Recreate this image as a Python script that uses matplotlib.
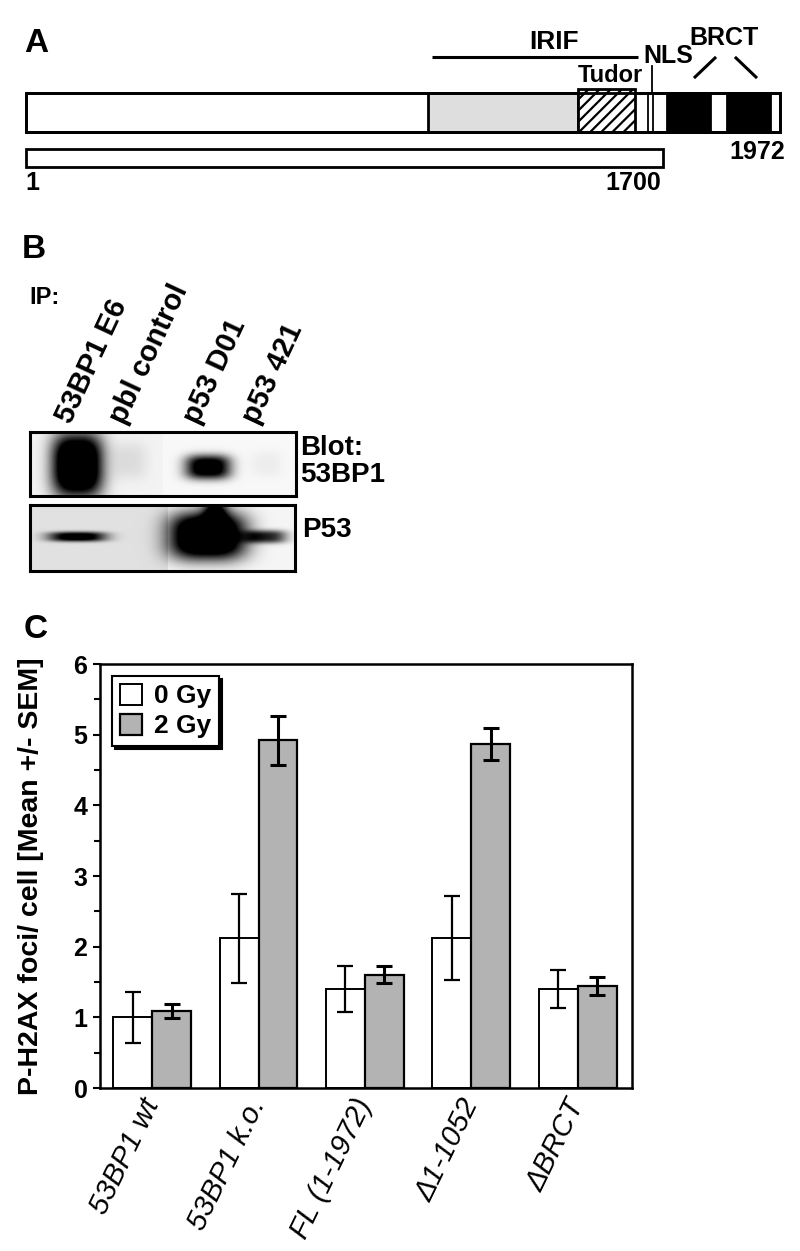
import numpy as np
import matplotlib
matplotlib.use("Agg")
import matplotlib.pyplot as plt
from matplotlib.patches import Rectangle

# ---------------- data ----------------
# Panel A: 53BP1 domain map (amino-acid positions, schematic as drawn)
protein_len = 1972
irif_region = (1062, 1600)
gray_region = (1052, 1444)
tudor_region = (1444, 1593)
nls_pos = 1637
nls_edges = [1627, 1640]
brct_regions = [(1676, 1789), (1833, 1945)]
construct_end = 1665
construct_label = "1700"

# Panel B: co-IP western blot
ip_lanes = ["53BP1 E6", "pbl control", "p53 D01", "p53 421"]
blot_names = ["Blot:\n53BP1", "P53"]
signal_53bp1 = [1.0, 0.06, 0.80, 0.03]
signal_p53 = [0.70, 0.0, 1.0, 0.55]

# Panel C: P-H2AX foci
groups = ["53BP1 wt", "53BP1 k.o.", "FL (1-1972)", "\u03941-1052", "\u0394BRCT"]
mean_0gy = [1.00, 2.12, 1.40, 2.12, 1.40]
sem_0gy = [0.36, 0.63, 0.32, 0.59, 0.27]
mean_2gy = [1.09, 4.92, 1.60, 4.87, 1.44]
sem_2gy = [0.10, 0.35, 0.12, 0.23, 0.13]
series_labels = ["0 Gy", "2 Gy"]
yticks = [0, 1, 2, 3, 4, 5, 6]

# ---------------- style ----------------
plt.rcParams["font.family"] = ["Liberation Sans", "DejaVu Sans"]
plt.rcParams["hatch.linewidth"] = 1.6

W, H = 800, 1251
fig = plt.figure(figsize=(W / 100, H / 100), dpi=100)


def fx(px):
    return px / W


def fy(py):
    return 1 - py / H


def ftext(px, py, s, **kw):
    kw.setdefault("fontweight", "bold")
    fig.text(fx(px), fy(py), s, **kw)


# ================= Panel A =================
axA = fig.add_axes([0, fy(200), 1, 200 / H])
px_per_aa = (780 - 26) / (protein_len - 1)
axA.set_xlim(1 - 26 / px_per_aa, 1 + (W - 26) / px_per_aa)
axA.set_ylim(200, 0)
axA.axis("off")

bar_top, bar_bot = 93, 132
lw = 2.0
axA.add_patch(Rectangle((1, bar_top), protein_len - 1, bar_bot - bar_top,
                        facecolor="white", edgecolor="black", lw=lw, zorder=2))
axA.add_patch(Rectangle((gray_region[0], bar_top), gray_region[1] - gray_region[0],
                        bar_bot - bar_top, facecolor="#dedede", edgecolor="black", lw=lw, zorder=3))
axA.add_patch(Rectangle((tudor_region[0], 89), tudor_region[1] - tudor_region[0],
                        bar_bot - 89, facecolor="white", edgecolor="black", hatch="///",
                        lw=lw, zorder=4))
for e in nls_edges:
    axA.plot([e, e], [bar_top, bar_bot], color="black", lw=1.3, zorder=4)
for s, e in brct_regions:
    axA.add_patch(Rectangle((s, bar_top), e - s, bar_bot - bar_top,
                            facecolor="black", edgecolor="black", lw=lw, zorder=4))
axA.add_patch(Rectangle((1, bar_top), protein_len - 1, bar_bot - bar_top,
                        facecolor="none", edgecolor="black", lw=lw, zorder=5))
axA.add_patch(Rectangle((1, 149), construct_end - 1, 18,
                        facecolor="white", edgecolor="black", lw=lw, zorder=2))
axA.plot(list(irif_region), [57, 57], color="black", lw=2.2, solid_capstyle="butt")
axA.plot([nls_pos, nls_pos], [66, bar_top], color="black", lw=1.3)
axA.plot([1750, 1802], [77, 58], color="black", lw=2.2)
axA.plot([1857, 1909], [58, 77], color="black", lw=2.2)

ftext(554, 42, "IRIF", ha="center", va="center", fontsize=19)
ftext(668, 56, "NLS", ha="center", va="center", fontsize=18)
ftext(610, 76, "Tudor", ha="center", va="center", fontsize=17)
ftext(724, 38, "BRCT", ha="center", va="center", fontsize=18)
ftext(757, 152, "1972", ha="center", va="center", fontsize=18)
ftext(633, 183, construct_label, ha="center", va="center", fontsize=18)
ftext(32, 183, "1", ha="center", va="center", fontsize=18)
ftext(36, 44, "A", ha="center", va="center", fontsize=24)

# ================= Panel B =================
ftext(34, 250, "B", ha="center", va="center", fontsize=24)
ftext(29, 297, "IP:", ha="left", va="center", fontsize=17)

lane_frac = [0.177, 0.37, 0.67, 0.89]
band_w53 = [0.095, 0.07, 0.085, 0.06]
band_h53 = [0.50, 0.3, 0.19, 0.2]
band_c53 = [0.52, 0.45, 0.55, 0.5]
band_wp = [0.11, 0.05, 0.145, 0.08]
band_hp = [0.075, 0.1, 0.36, 0.1]
band_cp = [0.48, 0.5, 0.47, 0.48]


def blot_image(signal, bw, bh, bc_, npx, npy, bg_left, bg_right, split):
    X, Y = np.meshgrid(np.linspace(0, 1, npx), np.linspace(0, 1, npy))
    dens = np.where(X < split, bg_left, bg_right)
    for cx, s, w_, h_, cy in zip(lane_frac, signal, bw, bh, bc_):
        dens = dens + 1.5 * s * np.exp(-np.abs((X - cx) / w_) ** 3 - np.abs((Y - cy) / h_) ** 3)
    return np.clip(dens, 0, 1)


blot_boxes = [(30, 432, 296, 496), (30, 505, 295, 571)]
imgs = [
    blot_image(signal_53bp1, band_w53, band_h53, band_c53, 266, 64, 0.05, 0.03, 0.5),
    blot_image(signal_p53, band_wp, band_hp, band_cp, 265, 66, 0.12, 0.04, 0.52),
]
Xp, Yp = np.meshgrid(np.linspace(0, 1, 265), np.linspace(0, 1, 66))
imgs[1] = np.clip(imgs[1] + 0.9 * signal_p53[2] *
                  np.exp(-((Xp - 0.70) / 0.045) ** 2 - ((Yp - 0.05) / 0.25) ** 2), 0, 1)

for (x0, y0, x1, y1), img in zip(blot_boxes, imgs):
    axb = fig.add_axes([fx(x0), fy(y1), fx(x1 - x0), (y1 - y0) / H])
    axb.imshow(img, cmap="gray_r", vmin=0, vmax=1, aspect="auto", interpolation="bilinear")
    axb.set_xticks([])
    axb.set_yticks([])
    for sp in axb.spines.values():
        sp.set_linewidth(2.2)

ftext(300, 461, blot_names[0], ha="left", va="center", fontsize=20, linespacing=1.05)
ftext(302, 530, blot_names[1], ha="left", va="center", fontsize=20)

lab_anchor = [76, 130, 204, 263]
for lx, lab in zip(lab_anchor, ip_lanes):
    ftext(lx, 428, lab, ha="left", va="bottom", rotation=65, rotation_mode="anchor",
          fontsize=21)

# ================= Panel C =================
ftext(36, 630, "C", ha="center", va="center", fontsize=24)
axC = fig.add_axes([fx(100), fy(1088), fx(632 - 100), (1088 - 664) / H])
x = np.arange(len(groups))
bw = 0.366
ekw = dict(ecolor="black", elinewidth=1.6, capsize=6, capthick=1.6)
axC.bar(x - bw / 2, mean_0gy, bw, yerr=sem_0gy, color="white", edgecolor="black",
        lw=1.4, label=series_labels[0], error_kw=ekw, zorder=2)
axC.bar(x + bw / 2, mean_2gy, bw, yerr=sem_2gy, color="#b3b3b3", edgecolor="black",
        lw=1.6, label=series_labels[1], error_kw=dict(ekw, elinewidth=2.2, capthick=2.2),
        zorder=2)
axC.set_xlim(-0.49, len(groups) - 0.49)
axC.set_ylim(0, 6)
axC.set_yticks(yticks)
axC.set_yticks(np.arange(0.5, 6, 1), minor=True)
axC.set_yticklabels([str(t) for t in yticks], fontsize=18, fontweight="bold")
axC.tick_params(axis="y", which="major", length=5, width=1.5, pad=4)
axC.tick_params(axis="y", which="minor", length=4, width=1.5)
axC.tick_params(axis="x", length=0, pad=9)
axC.set_xticks(x)
axC.set_xticklabels(groups, rotation=64, ha="right", va="center", rotation_mode="anchor",
                    fontsize=21, fontstyle="italic")
for sp in axC.spines.values():
    sp.set_linewidth(1.8)
axC.set_ylabel("P-H2AX foci/ cell [Mean +/- SEM]", fontsize=20.5, fontweight="bold")
axC.yaxis.set_label_coords(-0.105, 0.5)
leg = axC.legend(loc="upper left", fontsize=19, frameon=True, fancybox=False,
                 edgecolor="black", handlelength=0.85, handleheight=0.85, handletextpad=0.45,
                 borderaxespad=0.45, borderpad=0.3, labelspacing=0.2,
                 shadow={"color": "black", "alpha": 1.0})
leg.get_frame().set_linewidth(1.5)
for t in leg.get_texts():
    t.set_fontweight("bold")

fig.savefig("out.png", dpi=100)
